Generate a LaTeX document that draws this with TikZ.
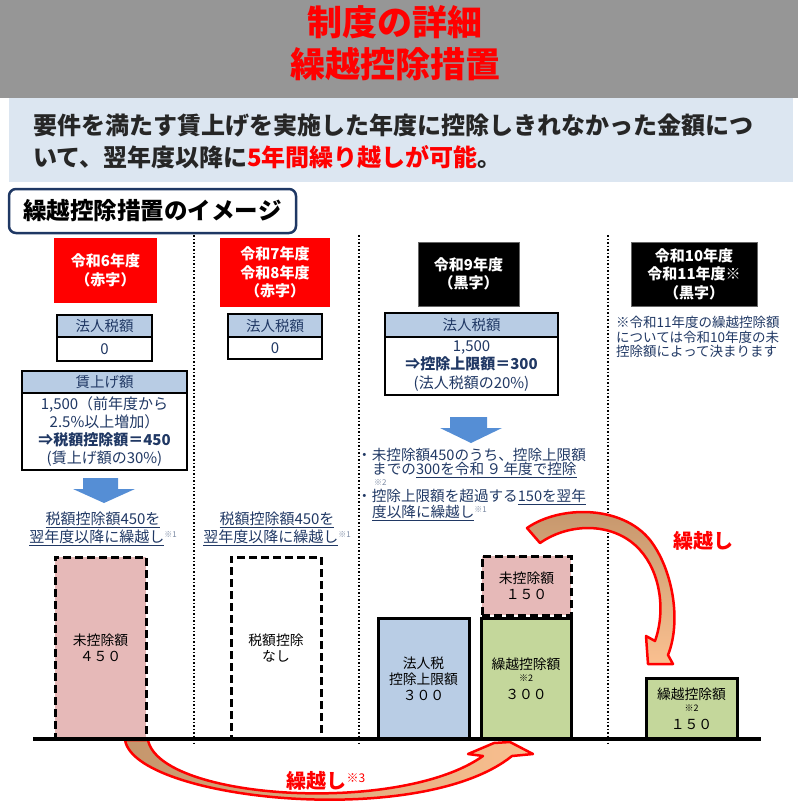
\documentclass[tikz,border=0pt]{standalone}
\usepackage{fontspec}
\setmainfont{Noto Sans CJK JP}
\usepackage{tikz}

\definecolor{hdrgray}{RGB}{150,150,150}
\definecolor{bandblue}{RGB}{220,230,241}
\definecolor{boxnavy}{RGB}{31,56,100}
\definecolor{navy}{RGB}{32,56,100}
\definecolor{cellblue}{RGB}{184,204,228}
\definecolor{pinkbar}{RGB}{230,185,184}
\definecolor{bluebar}{RGB}{185,205,229}
\definecolor{greenbar}{RGB}{196,215,155}
\definecolor{arrowblue}{RGB}{85,142,213}
\definecolor{brownarr}{RGB}{196,150,108}
\definecolor{orangearr}{RGB}{250,192,144}

\newcommand{\kome}[1]{\raisebox{5pt}{\fontsize{8}{8}\selectfont\color{navy!60}#1}}

\begin{document}
\begin{tikzpicture}[x=1pt, y=-1pt,
    title/.style={text=red, font=\fontsize{35}{35}\selectfont\bfseries, inner sep=0pt},
    lead/.style={anchor=west, text=black!85, font=\fontsize{24}{24}\selectfont\bfseries, inner sep=0pt},
    yearbox/.style={text=white, align=center, inner sep=0pt, font=\fontsize{15}{18.5}\selectfont\bfseries},
    cellhead/.style={draw=black, line width=1.6pt, fill=cellblue, text=navy, inner sep=0pt, font=\fontsize{14.5}{18}\selectfont},
    cellbody/.style={draw=black, line width=1.6pt, fill=white, text=navy, align=center, inner sep=0pt, font=\fontsize{15}{18.3}\selectfont},
    note/.style={text=navy, align=center, inner sep=0pt, font=\fontsize{15}{18}\selectfont},
    bullet/.style={anchor=west, text=navy, inner sep=0pt, font=\fontsize{14.6}{14.6}\selectfont},
    dashbar/.style={draw=black, line width=3pt, dash pattern=on 8pt off 4pt, align=center, inner sep=0pt, font=\fontsize{13.8}{16}\selectfont},
    solidbar/.style={draw=black, line width=3pt, align=center, inner sep=0pt, font=\fontsize{13.8}{16}\selectfont},
    carrytext/.style={text=red, inner sep=0pt, font=\fontsize{20}{20}\selectfont\bfseries},
    curvearrow/.style={draw=red, line width=2.5pt, line join=round},
    sep/.style={dotted, line width=1.5pt}]
  \useasboundingbox (0,0) rectangle (798,806);

  % Header
  \fill[hdrgray] (0,0) rectangle (798,98);
  \node[title] (title1) at (395,22) {制度の詳細};
  \node[title] (title2) at (395,64) {繰越控除措置};
  \fill[bandblue] (9,98) rectangle (793,182);
  \node[lead] (lead1) at (33,125) {要件を満たす賃上げを実施した年度に控除しきれなかった金額につ};
  \node[lead] (lead2) at (33,157) {いて、翌年度以降に\textcolor{red}{5年間繰り越しが可能}。};
  \node[draw=boxnavy, line width=2.5pt, rounded corners=7pt, fill=white, minimum width=287, minimum height=44,
        inner sep=0pt, font=\fontsize{23.5}{24}\selectfont\bfseries] (imglabel) at (152.5,211) {繰越控除措置のイメージ};

  % Separators
  \foreach \x in {194,359,608} {
    \draw[sep] (\x,235) -- (\x,745);
  }

  % Years
  \node[yearbox, fill=red, minimum width=103, minimum height=65] (year6) at (105.5,270.5) {令和6年度\\（赤字）};
  \node[yearbox, fill=red, minimum width=110, minimum height=69] (year78) at (275,272.5) {令和7年度\\令和8年度\\（赤字）};
  \node[yearbox, fill=black, draw=black!60, minimum width=101, minimum height=64] (year9) at (468.5,274) {令和9年度\\（黒字）};
  \node[yearbox, fill=black, draw=black!60, minimum width=126, minimum height=64] (year1011) at (694,274) {令和10年度\\令和11年度※\\（黒字）};

  % Tables
  \node[cellhead, minimum width=95, minimum height=22] (tax6h) at (104.5,326) {法人税額};
  \node[cellbody, minimum width=95, minimum height=24] (tax6v) at (104.5,349) {0};
  \node[cellhead, minimum width=165, minimum height=22] (wage6h) at (104.5,382) {賃上げ額};
  \node[cellbody, minimum width=165, minimum height=77] (wage6v) at (104.5,431.5)
    {1,500（前年度から\\2.5\%以上増加）\\\textbf{⇒税額控除額＝450}\\(賃上げ額の30\%)};
  \node[cellhead, minimum width=94, minimum height=23] (tax78h) at (275,325.5) {法人税額};
  \node[cellbody, minimum width=94, minimum height=22] (tax78v) at (275,348) {0};
  \node[cellhead, minimum width=173, minimum height=24] (tax9h) at (471.5,325) {法人税額};
  \node[cellbody, minimum width=173, minimum height=58] (tax9v) at (471.5,366)
    {1,500\\\textbf{⇒控除上限額＝300}\\(法人税額の20\%)};

  % Down arrows
  \fill[arrowblue] (83,478) -- (118,478) -- (118,489) -- (135,489) -- (104,503) -- (73,489) -- (83,489) -- cycle;
  \fill[arrowblue] (450,417) -- (487,417) -- (487,428) -- (502,428) -- (471,443) -- (440,428) -- (450,428) -- cycle;

  % Notes
  \node[note] (carry6) at (103,529) {\underline{税額控除額450を}\\\underline{翌年度以降に繰越し}\kome{※1}};
  \node[note] (carry78) at (277,529) {\underline{税額控除額450を}\\\underline{翌年度以降に繰越し}\kome{※1}};
  \node[bullet] (use1) at (357,455) {・未控除額450のうち、控除上限額};
  \node[bullet] (use2) at (372,470) {までの\underline{300を令和\,９\,年度で控除}};
  \node[bullet, font=\fontsize{8}{8}\selectfont, text=navy!60] (use2m) at (374,483) {※2};
  \node[bullet] (use3) at (357,497) {・控除上限額を超過する\underline{150を翌年}};
  \node[bullet] (use4) at (372,513) {\underline{度以降に繰越し}\kome{※1}};
  \node[note, anchor=west, align=left, font=\fontsize{13.5}{14.5}\selectfont] (note11) at (616,337)
    {※令和11年度の繰越控除額\\については令和10年度の未\\控除額によって決まります};

  % Bars
  \node[dashbar, fill=pinkbar, minimum width=91, minimum height=182] (rest450) at (100.5,648) {未控除額\\４５０};
  \node[dashbar, fill=white, minimum width=90, minimum height=182] (nocredit) at (276,648) {税額控除\\なし};
  \node[solidbar, fill=bluebar, minimum width=91, minimum height=121] (limit300) at (423.5,678.5) {法人税\\控除上限額\\３００};
  \node[solidbar, fill=greenbar, minimum width=90, minimum height=121] (carry300) at (526,678.5)
    {繰越控除額\\[-4pt]{\fontsize{9}{9}\selectfont ※2}\\[2pt]３００};
  \node[dashbar, fill=pinkbar, minimum width=89, minimum height=59] (rest150) at (526.5,585.5) {未控除額\\１５０};
  \node[solidbar, fill=greenbar, minimum width=91, minimum height=61] (carry150) at (691.5,708.5)
    {繰越控除額\\[-4pt]{\fontsize{9}{9}\selectfont ※2}\\[2pt]１５０};

  % Carry-over arrows
  \draw[curvearrow, left color=brownarr, right color=orangearr]
    (125,740) .. controls (135,800) and (420,830) .. (512,756)
    -- (533,754) -- (510,742) -- (494,743) -- (468,754) -- (483,756)
    .. controls (400,815) and (160,800) .. (148,740) -- cycle;
  \draw[curvearrow, top color=brownarr, bottom color=orangearr]
    (527,528) .. controls (560,505) and (622,505) .. (650,540)
    .. controls (672,568) and (682,620) .. (668,655)
    -- (673,664) -- (648,664) -- (646,636) -- (655,641)
    .. controls (666,610) and (660,572) .. (640,550)
    .. controls (615,522) and (570,522) .. (540,543) -- cycle;
  \draw[line width=4pt] (33,739) -- (761,739);
  \node[carrytext] (carrylbl1) at (703,541) {繰越し};
  \node[carrytext] (carrylbl2) at (326,781) {繰越し{\mdseries\raisebox{6pt}{\fontsize{12}{12}\selectfont ※3}}};
\end{tikzpicture}
\end{document}
